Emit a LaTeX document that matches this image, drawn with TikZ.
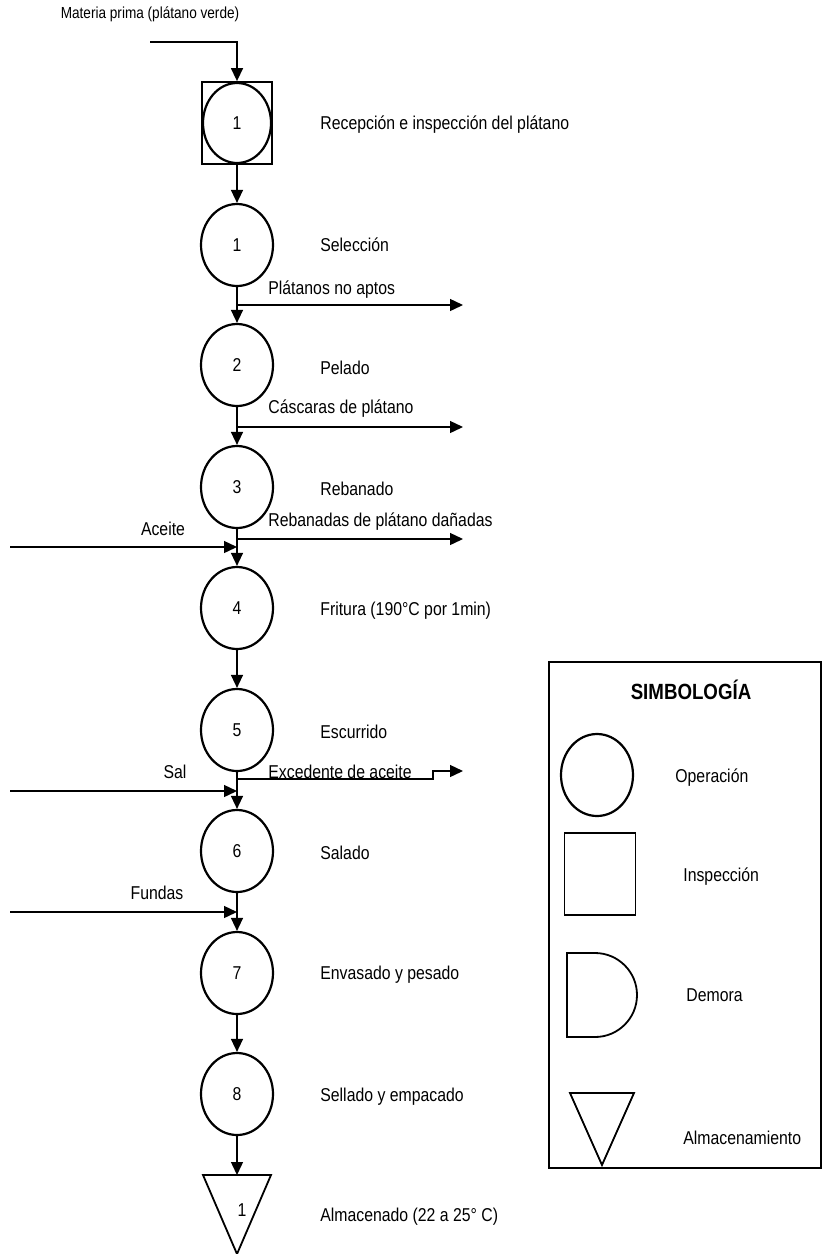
\documentclass[tikz,border=0pt]{standalone}
\usepackage{fontspec}
\setmainfont{Liberation Sans}[FakeStretch=0.85]
\usetikzlibrary{arrows.meta,shapes.geometric}

\tikzset{
    oper/.style={draw, ellipse, line width=1.1pt, minimum width=36pt, minimum height=41pt, inner sep=0pt},
    label/.style={anchor=west, inner sep=0pt},
    flow/.style={-{Triangle[length=6.5pt,width=6pt]}, line width=0.7pt},
}

\begin{document}
\begin{tikzpicture}[x=0.5pt, y=-0.5pt, font=\fontsize{9.3}{11}\selectfont]

        \useasboundingbox (0,0) rectangle (823,1254);

        % Materia prima
        \node[font=\fontsize{8}{10}\selectfont] at (150,14) (mp) {Materia prima (plátano verde)};
        \coordinate (mpin) at (150,42);

        % Inspeccion y operaciones
        \node[draw, line width=0.9pt, minimum width=35pt, minimum height=41pt] at (237,123) (insp) {};
        \node[oper, minimum width=34pt, minimum height=40pt] at (237,123) (op0) {1};
        \node[oper] at (237,245) (op1) {1};
        \node[oper] at (237,365) (op2) {2};
        \node[oper] at (237,487) (op3) {3};
        \node[oper] at (237,608) (op4) {4};
        \node[oper] at (237,730) (op5) {5};
        \node[oper] at (237,851) (op6) {6};
        \node[oper] at (237,973) (op7) {7};
        \node[oper] at (237,1094) (op8) {8};

        % Almacenado
        \coordinate (alm) at (237,1175);
        \draw[line width=0.9pt] (203,1175) -- (271,1175) -- (237,1254) -- cycle;
        \node at (242,1210) (alm1) {1};

        % Descripciones
        \node[label] at (320,125) (t0) {Recepción e inspección del plátano};
        \node[label] at (320,245) (t1) {Selección};
        \node[label] at (320,368) (t2) {Pelado};
        \node[label] at (320,489) (t3) {Rebanado};
        \node[label] at (320,611) (t4) {Fritura (190°C por 1min)};
        \node[label] at (320,732) (t5) {Escurrido};
        \node[label] at (320,853) (t6) {Salado};
        \node[label] at (320,975) (t7) {Envasado y pesado};
        \node[label] at (320,1097) (t8) {Sellado y empacado};
        \node[label] at (320,1217) (t9) {Almacenado (22 a 25° C)};

        % Flechas principales
        \draw[flow] (mpin) -| (insp.north);
        \draw[flow] (insp.south) -- (op1.north);
        \draw[flow] (op1.south) -- (op2.north);
        \draw[flow] (op2.south) -- (op3.north);
        \draw[flow] (op3.south) -- (op4.north);
        \draw[flow] (op4.south) -- (op5.north);
        \draw[flow] (op5.south) -- (op6.north);
        \draw[flow] (op6.south) -- (op7.north);
        \draw[flow] (op7.south) -- (op8.north);
        \draw[flow] (op8.south) -- (alm);

        % Salidas
        \coordinate (s1) at (237,305);
        \coordinate (s1e) at (463,305);
        \coordinate (s2) at (237,427);
        \coordinate (s2e) at (463,427);
        \coordinate (s3) at (237,539);
        \coordinate (s3e) at (463,539);
        \coordinate (s5) at (237,779);
        \coordinate (s5e) at (463,771);
        \draw[flow] (s1) -- (s1e);
        \draw[flow] (s2) -- (s2e);
        \draw[flow] (s3) -- (s3e);
        \draw[flow] (s5) -- (433,779) -- (433,771) -- (s5e);
        \node[label] at (268,290) (n1) {Plátanos no aptos};
        \node[label] at (268,409) (n2) {Cáscaras de plátano};
        \node[label] at (268,522) (n3) {Rebanadas de plátano dañadas};
        \node[label] at (268,772) (n5) {Excedente de aceite};

        % Entradas
        \coordinate (e3) at (10,547);
        \coordinate (e3e) at (237,547);
        \coordinate (e5) at (10,791);
        \coordinate (e5e) at (237,791);
        \coordinate (e6) at (10,912);
        \coordinate (e6e) at (237,912);
        \draw[flow] (e3) -- (e3e);
        \draw[flow] (e5) -- (e5e);
        \draw[flow] (e6) -- (e6e);
        \node at (163,529) (aceite) {Aceite};
        \node at (175,772) (sal) {Sal};
        \node at (157,893) (fundas) {Fundas};

        % Simbologia
        \draw[line width=0.9pt] (549,662) rectangle (821,1168);
        \node[font=\fontsize{11}{13}\selectfont\bfseries] at (691,690) (simb) {SIMBOLOGÍA};
        \node[oper] at (597,775) (lop) {};
        \node[label] at (675,778) (lopt) {Operación};
        \node[draw, line width=0.9pt, minimum width=35.5pt, minimum height=41pt] at (600,874) (lins) {};
        \node[label] at (683,877) (linst) {Inspección};
        \draw[line width=0.9pt] (567,953) -- (595,953) arc[start angle=90, end angle=-90, radius=21pt] -- (567,1037) -- cycle;
        \node[label] at (686,995) (ldem) {Demora};
        \draw[line width=0.9pt] (570,1093) -- (634,1093) -- (602,1165) -- cycle;
        \node[label] at (683,1138) (lalm) {Almacenamiento};

    \end{tikzpicture}
\end{document}
